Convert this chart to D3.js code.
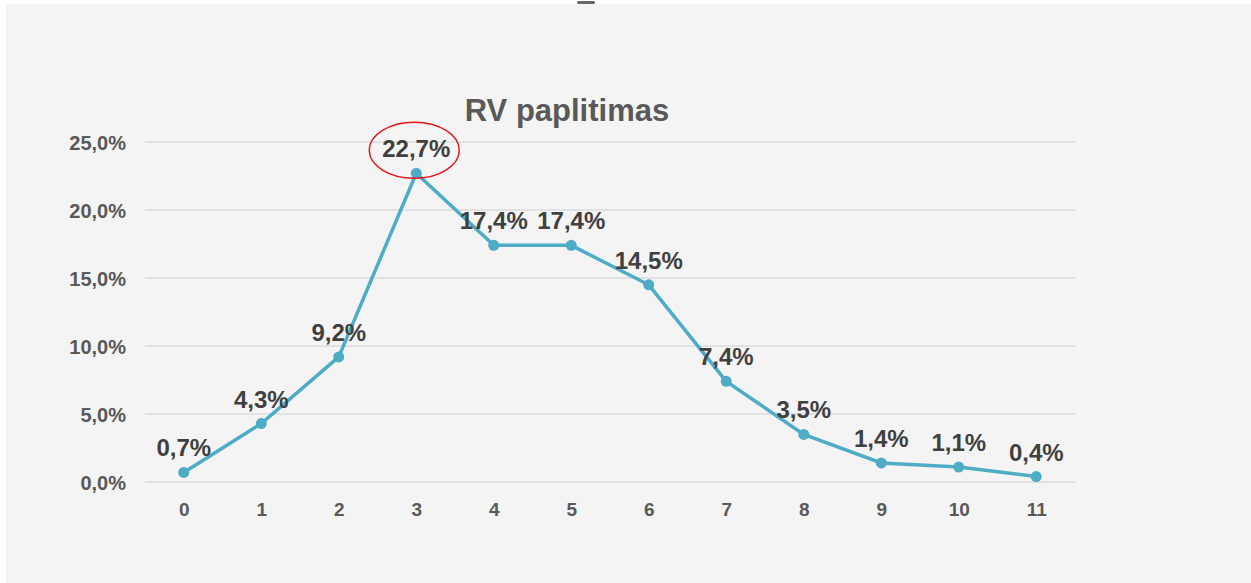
<!DOCTYPE html>
<html>
<head>
<meta charset="utf-8">
<script src="https://cdn.jsdelivr.net/npm/d3@7"></script>
<style>
  body { margin: 0; background: #fff; }
  svg { display: block; font-family: "Liberation Sans", Arial, sans-serif; }
  .grid line { stroke: #dcdcdc; stroke-width: 1.5; }
  .axis text { fill: #595959; font-weight: bold; }
</style>
</head>
<body>
<svg width="1251" height="583"></svg>
<script>
// chart data
const categories = ['0', '1', '2', '3', '4', '5', '6', '7', '8', '9', '10', '11'];
const values = [0.7, 4.3, 9.2, 22.7, 17.4, 17.4, 14.5, 7.4, 3.5, 1.4, 1.1, 0.4];
const yTicks = [0, 5, 10, 15, 20, 25];
const highlight = '3';

const fmt = v => v.toFixed(1).replace('.', ',') + '%';

let svg = d3.select('svg');

// panel background
svg.append('rect')
  .attr('x', 6).attr('y', 4)
  .attr('width', 1245).attr('height', 579)
  .attr('fill', '#f4f4f4');

// little handle at the top edge
svg.append('rect')
  .attr('x', 577).attr('y', 1)
  .attr('width', 18).attr('height', 3)
  .attr('rx', 1.5)
  .attr('fill', '#666');

let margin = { left: 145, right: 1075, top: 142, bottom: 482 };

let x = d3.scalePoint()
  .domain(categories)
  .range([margin.left, margin.right])
  .padding(0.5);

let y = d3.scaleLinear()
  .domain([0, 25])
  .range([margin.bottom, margin.top]);

// horizontal gridlines
svg.append('g')
  .attr('class', 'grid')
  .selectAll('line')
  .data(yTicks)
  .join('line')
  .attr('x1', margin.left)
  .attr('x2', margin.right)
  .attr('y1', d => y(d))
  .attr('y2', d => y(d));

// y axis labels
let yAxis = svg.append('g')
  .attr('class', 'axis')
  .attr('transform', 'translate(' + (margin.left - 19) + ',0)')
  .call(d3.axisLeft(y).tickValues(yTicks).tickFormat(fmt).tickSize(0).tickPadding(0));
yAxis.select('.domain').remove();
yAxis.selectAll('text').attr('dy', '0.35em').attr('font-size', 20);

// x axis labels
let xAxis = svg.append('g')
  .attr('class', 'axis')
  .attr('transform', 'translate(0,' + (margin.bottom + 20) + ')')
  .call(d3.axisBottom(x).tickSize(0).tickPadding(0));
xAxis.select('.domain').remove();
xAxis.selectAll('text').attr('font-size', 19);

// title
svg.append('text')
  .attr('x', 567)
  .attr('y', 121)
  .attr('text-anchor', 'middle')
  .attr('fill', '#595959')
  .attr('font-size', 31)
  .attr('font-weight', 'bold')
  .text('RV paplitimas');

let points = categories.map((c, i) => ({ c: c, v: values[i] }));

let line = d3.line()
  .x(d => x(d.c))
  .y(d => y(d.v));

svg.append('path')
  .datum(points)
  .attr('d', line)
  .attr('fill', 'none')
  .attr('stroke', '#4eacc6')
  .attr('stroke-width', 3.5);

svg.append('g')
  .selectAll('circle')
  .data(points)
  .join('circle')
  .attr('cx', d => x(d.c))
  .attr('cy', d => y(d.v))
  .attr('r', 5.5)
  .attr('fill', '#4eacc6');

// data labels
svg.append('g')
  .selectAll('text')
  .data(points)
  .join('text')
  .attr('x', d => x(d.c))
  .attr('y', d => y(d.v) - 16)
  .attr('text-anchor', 'middle')
  .attr('fill', '#404040')
  .attr('font-size', 24)
  .attr('font-weight', 'bold')
  .text(d => fmt(d.v));

// red ring round the peak label
let peak = points.find(d => d.c === highlight);
svg.append('ellipse')
  .attr('cx', x(peak.c) - 2)
  .attr('cy', y(peak.v) - 23)
  .attr('rx', 45)
  .attr('ry', 28)
  .attr('fill', 'none')
  .attr('stroke', '#e8141b')
  .attr('stroke-width', 1.5);
</script>
</body>
</html>
